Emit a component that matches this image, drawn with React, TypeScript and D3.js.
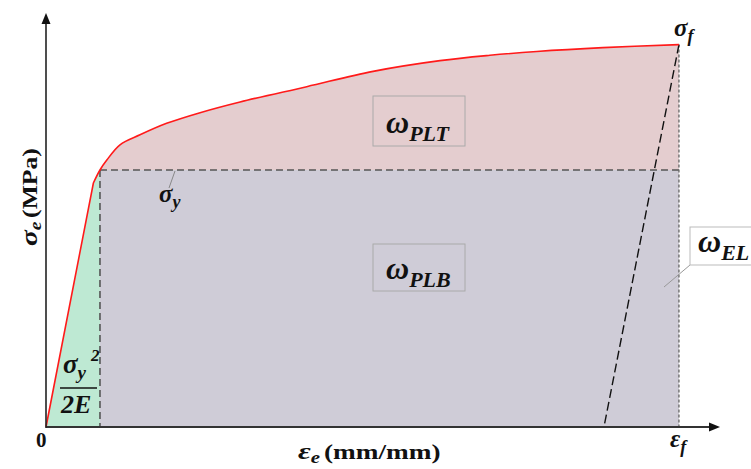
import React from 'react';
import * as d3 from 'd3';

// Engineering stress-strain curve (strain mm/mm, stress MPa)
const strain = [0, 0.0187, 0.0213, 0.024, 0.0292, 0.0371, 0.0476, 0.0608, 0.0766, 0.1029, 0.1291, 0.1555, 0.1752, 0.1937, 0.2198, 0.2498];
const stress = [0, 319, 336, 349, 369, 382, 397, 411, 425, 445, 465, 479, 486, 491, 496, 500];
const yieldStrain = 0.0213;
const yieldStress = 336;
const fractureStrain = 0.2498;
const fractureStress = 500;
const unloadStrain = 0.2202;
const xMax = 0.266;
const yMax = 540;

const W = 751;
const H = 469;
const ox = 46;
const oy = 427;

const FONT = '"Liberation Serif", "Times New Roman", serif';

export default function App() {
  const x = d3.scaleLinear().domain([0, xMax]).range([ox, 720]);
  const y = d3.scaleLinear().domain([0, yMax]).range([oy, 14]);
  const pts: [number, number][] = strain.map((s, i) => [s, stress[i]]);
  // elastic part is straight, plastic part smooth
  const plastic = d3.line<[number, number]>().x(d => x(d[0])).y(d => y(d[1])).curve(d3.curveCatmullRom.alpha(0.5));
  const plasticPath = (plastic(pts.slice(1)) || '').slice(1);
  const linePath = `M${x(pts[0][0])},${y(pts[0][1])}L${plasticPath}`;
  const last = pts[pts.length - 1];
  const areaPath = `${linePath}L${x(last[0])},${y(0)}Z`;

  const xy = x(yieldStrain);
  const xf = x(fractureStrain);
  const yy = y(yieldStress);
  const yf = y(fractureStress);
  const y0 = y(0);

  const txt = { fontFamily: FONT, fontWeight: 'bold' as const, fill: '#111' };

  return (
    <svg width={W} height={H} style={{ position: 'absolute', left: 0, top: 0, background: '#fff' }}>
      <defs>
        <clipPath id="clipPink">
          <rect x={xy} y={0} width={xf - xy} height={yy} />
        </clipPath>
        <clipPath id="clipGreen">
          <rect x={ox} y={0} width={xy - ox} height={H} />
        </clipPath>
      </defs>
      {/* regions */}
      <path d={areaPath} fill="#e4cdcf" clipPath="url(#clipPink)" />
      <rect x={xy} y={yy} width={xf - xy} height={y0 - yy} fill="#cfccd7" />
      <path d={areaPath} fill="#bee9d3" clipPath="url(#clipGreen)" />

      {/* dashed guides */}
      <line x1={xy} y1={yy} x2={xf} y2={yy} stroke="#555" strokeWidth={1.6} strokeDasharray="7,4" />
      <line x1={xy} y1={yy} x2={xy} y2={y0} stroke="#555" strokeWidth={1.6} strokeDasharray="7,4" />
      <line x1={xf} y1={yf} x2={xf} y2={y0} stroke="#666" strokeWidth={1.3} strokeDasharray="3,2" />
      <line x1={xf} y1={yf} x2={x(unloadStrain)} y2={y0} stroke="#111" strokeWidth={1.4} strokeDasharray="9,4" />

      {/* curve */}
      <path d={linePath} fill="none" stroke="#ff1a1a" strokeWidth={1.6} />

      {/* axes */}
      <line x1={ox} y1={y0} x2={712} y2={y0} stroke="#333" strokeWidth={2.2} />
      <path d={`M720,${y0} L709,${y0 - 4.5} L709,${y0 + 4.5} Z`} fill="#111" />
      <line x1={ox} y1={y0 + 1} x2={ox} y2={22} stroke="#222" strokeWidth={1.6} />
      <path d={`M${ox},13 L${ox - 4.5},24 L${ox + 4.5},24 Z`} fill="#111" />

      {/* axis labels */}
      <text {...txt} x={36} y={447} fontSize={21}>0</text>
      <g transform="translate(298,459) scale(1.3,1)">
        <text {...txt} x={0} y={0} fontSize={21}>
          <tspan fontStyle="italic" fontSize={24}>ε</tspan>
          <tspan fontStyle="italic" fontSize={16} dy={4}>e</tspan>
          <tspan dy={-4} dx={3}>(mm/mm)</tspan>
        </text>
      </g>
      <g transform="translate(37,246) rotate(-90) scale(1.22,1)">
        <text {...txt} x={0} y={0} fontSize={21}>
          <tspan fontStyle="italic" fontSize={24}>σ</tspan>
          <tspan fontStyle="italic" fontSize={16} dy={4}>e</tspan>
          <tspan dy={-4} dx={3}>(MPa)</tspan>
        </text>
      </g>

      {/* sigma_f, eps_f */}
      <text {...txt} x={674} y={36} fontSize={25} fontStyle="italic">
        σ<tspan fontSize={18} dy={6}>f</tspan>
      </text>
      <text {...txt} x={670} y={447} fontSize={25} fontStyle="italic">
        ε<tspan fontSize={18} dy={6}>f</tspan>
      </text>

      {/* sigma_y */}
      <line x1={175} y1={171} x2={169} y2={188} stroke="#888" strokeWidth={1} />
      <text {...txt} x={159} y={202} fontSize={25} fontStyle="italic">
        σ<tspan fontSize={18} dy={6}>y</tspan>
      </text>

      {/* fraction sigma_y^2 / 2E */}
      <text {...txt} x={63} y={373} fontSize={27} fontStyle="italic">
        σ<tspan fontSize={19} dy={6}>y</tspan>
      </text>
      <text {...txt} x={91} y={361} fontSize={17} fontStyle="italic">2</text>
      <line x1={60} y1={388} x2={97} y2={388} stroke="#111" strokeWidth={1.5} />
      <text {...txt} x={61} y={413} fontSize={26} fontStyle="italic">2E</text>

      {/* omega_PLT */}
      <rect x={373} y={96} width={92} height={50} fill="none" stroke="#aaa" strokeWidth={1} />
      <text {...txt} x={386} y={133} fontSize={32} fontStyle="italic">
        ω<tspan fontSize={22} dy={8}>PLT</tspan>
      </text>

      {/* omega_PLB */}
      <rect x={373} y={244} width={92} height={47} fill="none" stroke="#aaa" strokeWidth={1} />
      <text {...txt} x={386} y={279} fontSize={32} fontStyle="italic">
        ω<tspan fontSize={22} dy={8}>PLB</tspan>
      </text>

      {/* omega_EL */}
      <line x1={690} y1={265} x2={664} y2={287} stroke="#999" strokeWidth={1} />
      <rect x={690} y={227} width={80} height={38} fill="#fff" stroke="#bbb" strokeWidth={1} />
      <text {...txt} x={698} y={252} fontSize={32} fontStyle="italic">
        ω<tspan fontSize={22} dy={8}>EL</tspan>
      </text>
    </svg>
  );
}
